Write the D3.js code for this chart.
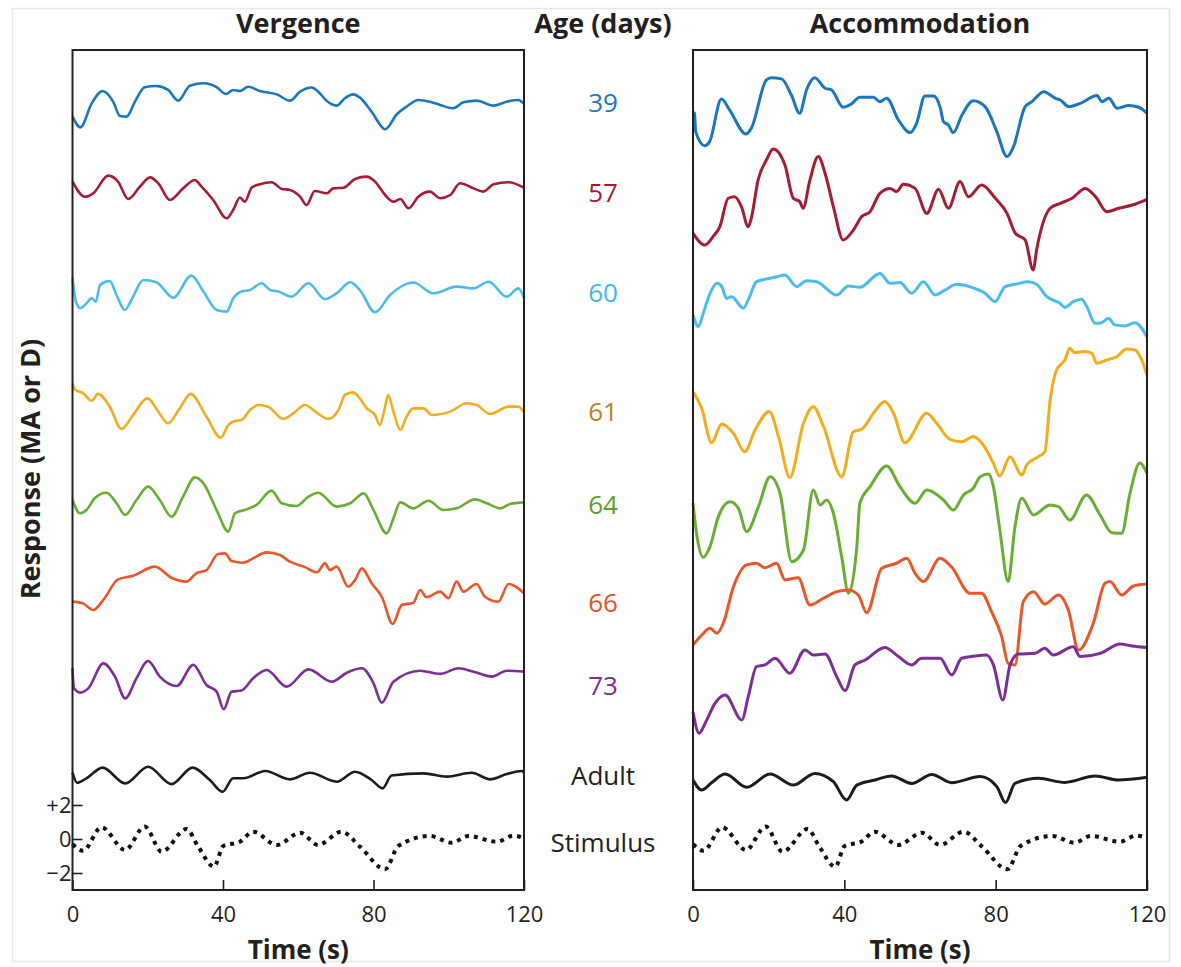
<!DOCTYPE html>
<html>
<head>
<meta charset="utf-8">
<script src="https://cdn.jsdelivr.net/npm/d3@7"></script>
<style>
  body { margin: 0; background: #fff; }
  svg text { font-family: "Open Sans", "DejaVu Sans", sans-serif; fill: #231f20; }
</style>
</head>
<body>
<div id="chart"></div>
<script>
// SVG area
var svgWidth = 1181;
var svgHeight = 967;

// Rows: age of subject (days), colours, vertical offset of each trace (MA or D)
var ages = ["39", "57", "60", "61", "64", "66", "73", "Adult", "Stimulus"];
var lineColors = ["#1b76bd", "#a41d35", "#4bbbec", "#f2ac1e", "#6aad33", "#e8562a", "#7b2f96", "#1c1c1c", "#111"];
var labelColors = ["#1f78c0", "#a6192e", "#3fb8ee", "#c0801c", "#5aa02c", "#e1501f", "#7a2d90", "#231f20", "#231f20"];
var offsets = [43.5, 38.5, 32.5, 25.5, 20, 14.5, 9.5, 3.75, 0];
var labelLevels = [43.3, 38.0, 32.1, 25.1, 19.65, 13.9, 9.0, 3.7, -0.25];

var timeTicks = [0, 40, 80, 120];
var responseTicks = [-2, 0, 2];
var responseTickLabels = ["\u22122", "0", "+2"];

// Traces: [time (s), response relative to row offset]
var verg39 = [[0,-1.01],[2.1,-1.64],[5.1,-0.23],[8,0.5],[10.8,-0.13],[12.6,-0.97],[14.4,-1.01],[16.6,-0.13],[19.2,0.72],[22.3,0.79],[25.4,0.56],[28.1,-0.07],[31.2,0.81],[34.9,0.95],[38.3,0.72],[40.8,0.32],[42.7,0.56],[44.5,0.5],[46.7,0.75],[49.8,0.5],[54.3,0.3],[57.8,-0.07],[60.5,0.46],[63.6,0.7],[65.3,0.46],[67.6,-0.09],[70.2,-0.36],[72.4,0.07],[74.6,0.3],[76.4,0.11],[79.5,-0.72],[83.1,-1.75],[86.2,-0.87],[88.8,-0.42],[91.9,-0.03],[95,-0.13],[97.7,-0.32],[101.2,-0.52],[103.9,-0.17],[107.4,-0.07],[111.9,-0.36],[115.4,-0.13],[118.5,-0.03],[120,-0.26]];
var verg57 = [[0,0.17],[3.3,-0.72],[5.5,-0.52],[9.5,0.52],[12.1,0.17],[14.8,-0.85],[17.9,-0.13],[20.6,0.42],[22.8,0.07],[25.9,-0.91],[29.4,-0.23],[32.5,0.26],[34.3,-0.13],[37.4,-0.91],[41,-1.99],[42.7,-1.5],[44.5,-0.77],[45.8,-1.01],[47.6,-0.19],[49.8,0.01],[52.9,0.13],[55.6,-0.26],[57.8,-0.32],[60.5,-0.72],[62.2,-1.21],[64.4,-0.38],[67.6,-0.52],[69.3,-0.23],[72,-0.19],[75.1,0.32],[78.2,0.46],[80.4,0.17],[83.1,-0.62],[85.3,-1.01],[87.1,-0.85],[89.3,-1.4],[91.9,-0.72],[95,-0.42],[97.7,-0.81],[100.4,-0.62],[103,0.07],[106.6,-0.23],[109.2,-0.42],[111.9,0.01],[115.9,0.13],[120,-0.19]];
var verg60 = [[0,0.52],[0.9,-0.89],[2.1,-1.28],[3.7,-0.99],[5.1,-0.7],[6.2,-0.89],[7.3,0.09],[9.9,0.32],[11.7,-0.5],[13.9,-1.38],[16.1,-0.6],[18.8,0.38],[22.3,0.25],[26.8,-0.66],[31.6,0.64],[34.8,-0.3],[38.3,-1.38],[41,-1.48],[42.7,-0.7],[44.9,-0.3],[47.2,-0.21],[50.3,0.19],[52.5,-0.21],[54.7,-0.3],[58.2,-0.6],[62.7,0.19],[67.1,-0.74],[70.2,-0.4],[73.8,0.25],[76.4,-0.21],[80.4,-1.52],[84.4,-0.5],[90.6,0.23],[95.9,-0.4],[102.1,-0.01],[106.6,-0.11],[110.6,0.28],[115.4,-0.6],[118.5,-0.11],[120,-0.66]];
var verg61 = [[0,1.3],[0.6,0.95],[2.8,0.72],[5.1,0.28],[6.8,0.68],[9.9,-0.07],[13,-1.38],[16.1,-0.56],[19.9,0.42],[22.8,-0.36],[25.4,-1.05],[28.5,-0.17],[31.4,0.68],[35.6,-0.66],[39.4,-1.89],[41.4,-1.15],[43.2,-0.91],[44.9,-0.85],[47.2,-0.26],[49.4,0.03],[52,-0.07],[56,-0.79],[58.7,-0.46],[61.8,0.03],[64.9,-0.42],[68,-0.79],[70.7,-0.26],[72.4,0.62],[74.6,0.77],[76,0.52],[78.2,-0.17],[80.4,-0.56],[81.7,-1.15],[82.9,-0.26],[83.9,0.62],[85.3,-0.36],[87.1,-1.44],[88.8,-0.66],[90.6,-0.17],[93.3,-0.17],[95.5,-0.56],[100.4,-0.36],[104.8,0.13],[107.4,0.03],[111,-0.5],[115.9,-0.07],[118.5,-0.07],[120,-0.42]];
var verg64 = [[0,-0.06],[2,-0.84],[3.7,-0.65],[5.9,0.04],[9,0.37],[11.7,-0.25],[14,-0.94],[17,-0.06],[20.1,0.73],[23.2,-0.06],[26.3,-1.04],[29.4,0.14],[32.5,1.27],[34.8,0.92],[38.3,-0.65],[41.4,-1.92],[43.2,-0.84],[46.3,-0.61],[48.9,-0.35],[52.9,0.49],[55.6,-0.25],[59.6,-0.41],[62.7,0.14],[65.3,0.37],[70.2,-0.45],[73.8,-0.25],[77.4,0.33],[80,-0.65],[83.5,-2.02],[85.3,-1.14],[87.1,-0.2],[90.6,-0.55],[94.6,-0.1],[98.6,-0.65],[102.1,-0.55],[107,-0.02],[110.1,-0.25],[113.7,-0.55],[116.3,-0.29],[120,-0.2]];
var verg66 = [[0,-0.54],[2.8,-0.64],[5.5,-1.03],[8.2,-0.44],[12.1,0.77],[16.1,0.99],[21.9,1.52],[26.3,0.87],[30.3,0.64],[32.9,1.13],[35.6,1.32],[38.7,2.26],[40.5,2.3],[42.3,1.85],[45.4,1.75],[48,2.01],[51.6,2.36],[55.1,2.21],[57.8,1.81],[61.5,1.52],[65,1.19],[67.1,1.72],[68.4,1.32],[70.2,1.52],[73.3,0.34],[75.1,0.74],[76.9,1.42],[79.5,0.54],[82.2,-0.25],[85.1,-1.85],[87.5,-0.74],[90.6,-0.6],[92.4,0.15],[94.1,-0.28],[97.7,0.05],[99.9,-0.34],[102.1,0.64],[103.9,0.05],[107.4,0.5],[109.6,-0.25],[113.2,-0.54],[115.9,0.5],[120,-0.05]];
var verg73 = [[0,0.54],[0.4,-0.64],[2,-0.89],[4.2,-0.64],[8.2,0.83],[11.3,0.05],[14,-1.23],[17,-0.05],[20.1,0.97],[23.2,0.05],[27.7,-0.5],[32.1,0.74],[35.6,-0.44],[38.3,-0.83],[40.2,-1.87],[42.3,-0.83],[44.9,-0.77],[48,-0.05],[51.6,0.44],[56.9,-0.54],[62.7,0.48],[68.9,-0.25],[72.9,0.28],[76.9,0.54],[80,-0.34],[82.2,-1.48],[85.3,-0.25],[92.4,0.4],[97.7,0.21],[102.6,0.54],[106.6,0.34],[111.5,0.05],[115.4,0.4],[120,0.34]];
var vergAdult = [[0,0.15],[1.2,-0.44],[3.7,-0.18],[8,0.45],[14,-0.48],[20.1,0.5],[26.3,-0.52],[31.9,0.45],[36.5,-0.28],[39.9,-0.97],[42.7,-0.18],[45.4,-0.18],[51.2,0.25],[57.8,-0.24],[63.1,0.15],[70.2,-0.38],[75.1,0.21],[79.5,-0.28],[82.4,-0.77],[84.8,-0.02],[93.3,0.11],[99.5,-0.08],[106.1,0.15],[111,-0.24],[115.4,0.07],[119.4,0.25],[120,0.15]];

var accom39 = [[0,-0.74],[0.4,-0.81],[0.7,-1.89],[3.1,-2.72],[4.4,-2.48],[7.5,0.03],[9.7,-0.62],[14,-2.03],[15.4,-1.7],[19.4,1.15],[20.7,1.28],[23.4,1.21],[26,0.26],[28.2,-0.81],[30,0.56],[32.2,1.28],[34.9,0.66],[36.6,0.56],[39.7,-0.46],[41.9,-0.26],[44.1,0.13],[47.7,0.13],[49.4,-0.13],[51.2,0.07],[54.3,-1.21],[57.4,-1.95],[59.1,-1.4],[61.3,0.21],[63.6,0.21],[65.4,-0.52],[66.2,-1.3],[67.5,-1.5],[68.8,-1.95],[71.1,-0.91],[74.1,-0.07],[77.2,-0.42],[80.3,-1.89],[83,-3.36],[84.7,-2.78],[87.8,-0.42],[89.6,-0.13],[92.7,0.46],[95.8,0.07],[97.1,-0.03],[99.3,-0.42],[102.4,-0.23],[106.8,0.23],[108.1,-0.13],[109.9,0.07],[112.1,-0.52],[115.2,-0.36],[117.8,-0.46],[120,-0.81]];
var accom57 = [[0,-2.87],[3.1,-3.56],[5.3,-3.07],[7.1,-2.48],[9.3,-0.81],[11,-0.72],[12.8,-1.3],[14.6,-2.48],[15.4,-1.99],[17.2,0.26],[19.4,1.44],[21.2,2.09],[24.3,1.15],[26.5,-0.81],[28.2,-1.01],[29.1,-1.4],[30.9,0.26],[33.1,1.64],[34.9,0.66],[37.1,-1.3],[39.7,-3.26],[42.4,-2.68],[44.6,-1.89],[46.8,-1.6],[49.4,-0.52],[52.1,-0.23],[53.8,-0.42],[55.6,0.01],[58.7,-0.23],[61.8,-1.7],[64.9,-0.28],[67.5,-1.4],[70.6,0.17],[72.8,-0.72],[76.3,-0.03],[79.9,-0.81],[83,-1.7],[85.2,-2.87],[87.8,-3.26],[89.9,-5.03],[90.9,-3.75],[94.4,-1.4],[97.1,-1.11],[100.2,-0.81],[103.7,-0.23],[106.4,-0.72],[109.4,-1.6],[112.5,-1.4],[116.1,-1.21],[120,-0.87]];
var accom60 = [[0,-1.68],[1.4,-2.36],[2.7,-1.58],[4.5,-0.4],[6.4,0.19],[7.6,-0.01],[8.9,-0.7],[10.2,-0.6],[13.3,-1.28],[14.6,-0.79],[16.8,0.28],[21.7,0.54],[24.3,0.68],[27.4,-0.01],[30,0.34],[32.7,0.28],[38,-0.5],[41.1,0.03],[44.1,-0.05],[49.4,0.77],[52.1,0.19],[54.7,0.23],[57.8,-0.4],[60.9,0.28],[64,-0.5],[66.6,-0.21],[69.7,0.13],[73.7,-0.05],[77.2,-0.4],[79.8,-0.89],[82.5,-0.01],[85.6,0.15],[88.6,0.28],[90.8,0.13],[93.5,-0.6],[97,-0.99],[98.3,-1.23],[100.5,-0.89],[102.7,-0.75],[104.1,-1.19],[106.3,-2.17],[108,-2.13],[109.8,-1.87],[111.5,-2.26],[114.2,-2.32],[116.8,-2.13],[120,-2.95]];
var accom61 = [[0,0.81],[2.3,-0.17],[4.9,-2.19],[7.6,-1.09],[10.7,-1.64],[13.7,-2.72],[16.4,-1.44],[20.2,-0.36],[22.6,-1.83],[25.6,-4.23],[29.2,-1.05],[31.8,-0.07],[34.5,-1.25],[39.3,-4.19],[42.4,-1.54],[44.6,-1.4],[47.7,-0.46],[50.7,0.23],[53,-0.46],[56,-2.19],[61.8,-0.46],[64.4,-1.05],[67.9,-1.99],[71,-2.13],[74.1,-1.83],[76.7,-2.32],[79.4,-3.4],[81.1,-4.15],[83.8,-3.01],[86.9,-4.09],[88.2,-3.5],[91.3,-3.01],[93,-2.72],[94.4,0.32],[96.1,2.09],[98.3,2.68],[99.6,3.36],[100.9,3.11],[103.6,3.17],[105.4,3.07],[106.7,2.48],[109.3,2.68],[112,2.87],[114.6,3.32],[116.8,3.26],[118.6,2.68],[120,1.79]];
var accom64 = [[0,-0.25],[1,-2.12],[2.7,-3.43],[4.5,-2.8],[6.7,-1.04],[9.8,-0.16],[12,-0.55],[14.2,-1.92],[17.3,-0.45],[20.4,1.31],[23,0.33],[26.1,-3.69],[29.2,-3],[31.8,0.53],[33.6,-0.35],[35.3,-0.06],[37.1,-0.84],[39.3,-3.39],[41.1,-5.55],[43.3,-2.8],[44.1,-0.25],[46.8,0.73],[51.2,1.94],[54.7,0.73],[58.7,-0.25],[61.8,0.53],[66.2,-0.06],[68.8,-0.65],[71.5,0.24],[74.1,0.63],[75.9,1.31],[78.1,1.47],[79.4,0.73],[81.1,-1.82],[83.3,-4.86],[85.1,-1.63],[86.9,0.04],[90,-0.94],[94.4,-0.35],[96.6,-0.45],[99.6,-1.24],[104,0.24],[107.6,-0.94],[110.7,-1.98],[113.3,-2.02],[115.5,0.33],[118.1,2.12],[120,1.51]];
var accom66 = [[0,-3.09],[2.3,-2.5],[4.5,-2.11],[6.3,-2.4],[8,-1.81],[10.7,0.34],[14.2,1.62],[16.8,1.72],[19,1.46],[22.1,1.72],[24.3,0.74],[27.8,0.87],[30.9,-0.74],[34.5,-0.34],[38,0.05],[41.1,0.15],[43.7,-0.15],[45.9,-1.19],[49.9,1.42],[53.8,1.72],[56.5,2.01],[58.7,1.13],[60.9,0.64],[65.3,2.01],[68.4,1.48],[73.2,-0.05],[76.3,-0.05],[78.9,-1.13],[81.6,-2.6],[83.3,-4.17],[85.1,-4.26],[87.3,-0.54],[90,0.05],[93,-0.68],[96.6,-0.15],[99.2,-1.03],[101.9,-3.38],[105.8,-1.81],[108.9,0.54],[110.2,0.64],[113.3,-0.15],[116.4,0.38],[120,0.5]];
var accom73 = [[0,-2.01],[1.6,-3.28],[3.2,-2.7],[5.8,-1.52],[8.5,-1.03],[12.9,-2.5],[14.6,-1.13],[16.8,0.64],[19,0.74],[21.7,1.13],[25.6,0.25],[29.6,1.62],[31.8,1.32],[34.9,1.38],[38,0.05],[40.2,-0.77],[42.8,0.74],[45.5,1.03],[50.7,1.77],[54.3,1.23],[57.8,0.74],[60.4,1.13],[65.3,1.13],[68.4,0.15],[71,1.13],[74.5,1.26],[77.6,1.32],[79.4,0.74],[81.9,-1.32],[83.8,0.74],[86,1.38],[90.4,1.42],[93,1.72],[95.2,1.32],[100.5,1.81],[102.3,1.23],[107.6,1.42],[112.9,1.97],[116,1.85],[120,1.76]];
var accomAdult = [[0,-0.28],[2.3,-0.87],[4.9,-0.44],[8.5,0.07],[14.2,-0.71],[20.4,0.07],[26.5,-0.58],[32.2,0.11],[37.1,-0.38],[40.6,-1.46],[43.3,-0.58],[48.1,-0.28],[52.5,-0.04],[57.8,-0.48],[63.1,0.05],[68.4,-0.44],[75.9,-0.08],[80.3,-0.67],[82.6,-1.61],[85.1,-0.48],[91.3,-0.18],[98.3,-0.42],[106.3,-0.04],[112.4,-0.28],[120,-0.12]];

// Stimulus (same for both panels)
var stimulus = [[0,-0.3],[2.8,-0.69],[7.7,0.69],[14,-0.65],[19.2,0.73],[23.7,-0.75],[30.3,0.59],[33.4,-0.45],[37.6,-1.63],[40.1,-0.41],[44.5,-0.16],[48,0.43],[54.3,-0.35],[60.5,0.37],[65.3,-0.35],[71.5,0.43],[76.4,-0.45],[83.1,-1.78],[86.6,-0.41],[95,0.18],[100.8,-0.22],[105.2,0.18],[112.8,-0.16],[117.2,0.2],[120,0.04]];

var vergence = [verg39, verg57, verg60, verg61, verg64, verg66, verg73, vergAdult, stimulus];
var accommodation = [accom39, accom57, accom60, accom61, accom64, accom66, accom73, accomAdult, stimulus];

// Panel layout
var plotTop = 50;
var plotBottom = 890;
var panels = [
  { title: "Vergence", traces: vergence, left: 72.5, right: 524, width: 2.6, yAxis: true },
  { title: "Accommodation", traces: accommodation, left: 693, right: 1147, width: 3, yAxis: false }
];

var svg = d3.select("#chart")
  .append("svg")
  .attr("width", svgWidth)
  .attr("height", svgHeight);

// faint outer frame of the figure
svg.append("rect")
  .attr("x", 12.5)
  .attr("y", 8.5)
  .attr("width", 1157)
  .attr("height", 953)
  .attr("fill", "none")
  .attr("stroke", "#ebe7e5")
  .attr("stroke-width", 1.5);

// shared response scale, 17 px per unit
var yScale = d3.scaleLinear()
  .domain([-3, 46.41])
  .range([plotBottom, plotTop]);

panels.forEach(function (p) {
  var xScale = d3.scaleLinear()
    .domain([0, 120])
    .range([p.left, p.right]);

  var g = svg.append("g");

  // traces
  p.traces.forEach(function (trace, i) {
    var line = d3.line()
      .x(d => xScale(d[0]))
      .y(d => yScale(offsets[i] + d[1]))
      .curve(d3.curveMonotoneX);

    var path = g.append("path")
      .datum(trace)
      .attr("d", line)
      .attr("fill", "none")
      .attr("stroke", lineColors[i])
      .attr("stroke-linejoin", "round");

    if (ages[i] === "Stimulus") {
      path.attr("stroke-width", 4)
        .attr("stroke-dasharray", "4 5");
    } else {
      path.attr("stroke-width", p.width);
    }
  });

  // box around the panel
  g.append("rect")
    .attr("x", p.left)
    .attr("y", plotTop)
    .attr("width", p.right - p.left)
    .attr("height", plotBottom - plotTop)
    .attr("fill", "none")
    .attr("stroke", "#231f20")
    .attr("stroke-width", 2);

  // x axis
  var bottomAxis = d3.axisBottom(xScale)
    .tickValues(timeTicks)
    .tickSizeInner(-10)
    .tickSizeOuter(0)
    .tickPadding(16);

  var xAxis = g.append("g")
    .attr("transform", `translate(0, ${plotBottom})`)
    .call(bottomAxis);
  xAxis.select(".domain").remove();
  xAxis.selectAll("line").attr("stroke", "#231f20").attr("stroke-width", 1.6);
  xAxis.selectAll("text")
    .attr("font-size", 22)
    .attr("font-family", null)
    .attr("fill", "#231f20");

  g.append("text")
    .attr("x", (p.left + p.right) / 2)
    .attr("y", 959)
    .attr("text-anchor", "middle")
    .attr("font-size", 26)
    .attr("font-weight", "bold")
    .text("Time (s)");

  // panel title
  g.append("text")
    .attr("x", (p.left + p.right) / 2)
    .attr("y", 33)
    .attr("text-anchor", "middle")
    .attr("font-size", 27)
    .attr("font-weight", "bold")
    .text(p.title);

  // y axis scale bar (left panel only)
  if (p.yAxis) {
    var leftAxis = d3.axisLeft(yScale)
      .tickValues(responseTicks)
      .tickFormat((d, i) => responseTickLabels[i])
      .tickSizeInner(-10)
      .tickSizeOuter(0)
      .tickPadding(1);

    var yAxis = g.append("g")
      .attr("transform", `translate(${p.left}, 0)`)
      .call(leftAxis);
    yAxis.select(".domain").remove();
    yAxis.selectAll("line").attr("stroke", "#231f20").attr("stroke-width", 1.6);
    yAxis.selectAll("text")
      .attr("font-size", 22)
      .attr("font-family", null)
      .attr("fill", "#231f20");
  }
});

// age column between panels
var labelX = 603;
svg.append("text")
  .attr("x", labelX)
  .attr("y", 33)
  .attr("text-anchor", "middle")
  .attr("font-size", 27)
  .attr("font-weight", "bold")
  .text("Age (days)");

svg.selectAll(".age-label")
  .data(ages)
  .enter()
  .append("text")
  .attr("class", "age-label")
  .attr("x", labelX)
  .attr("y", (d, i) => yScale(labelLevels[i]))
  .attr("dy", "0.35em")
  .attr("text-anchor", "middle")
  .attr("font-size", 26)
  .style("fill", (d, i) => labelColors[i])
  .text(d => d);

// y axis title
svg.append("text")
  .attr("transform", "translate(40, 469) rotate(-90)")
  .attr("text-anchor", "middle")
  .attr("font-size", 27)
  .attr("font-weight", "bold")
  .text("Response (MA or D)");
</script>
</body>
</html>
